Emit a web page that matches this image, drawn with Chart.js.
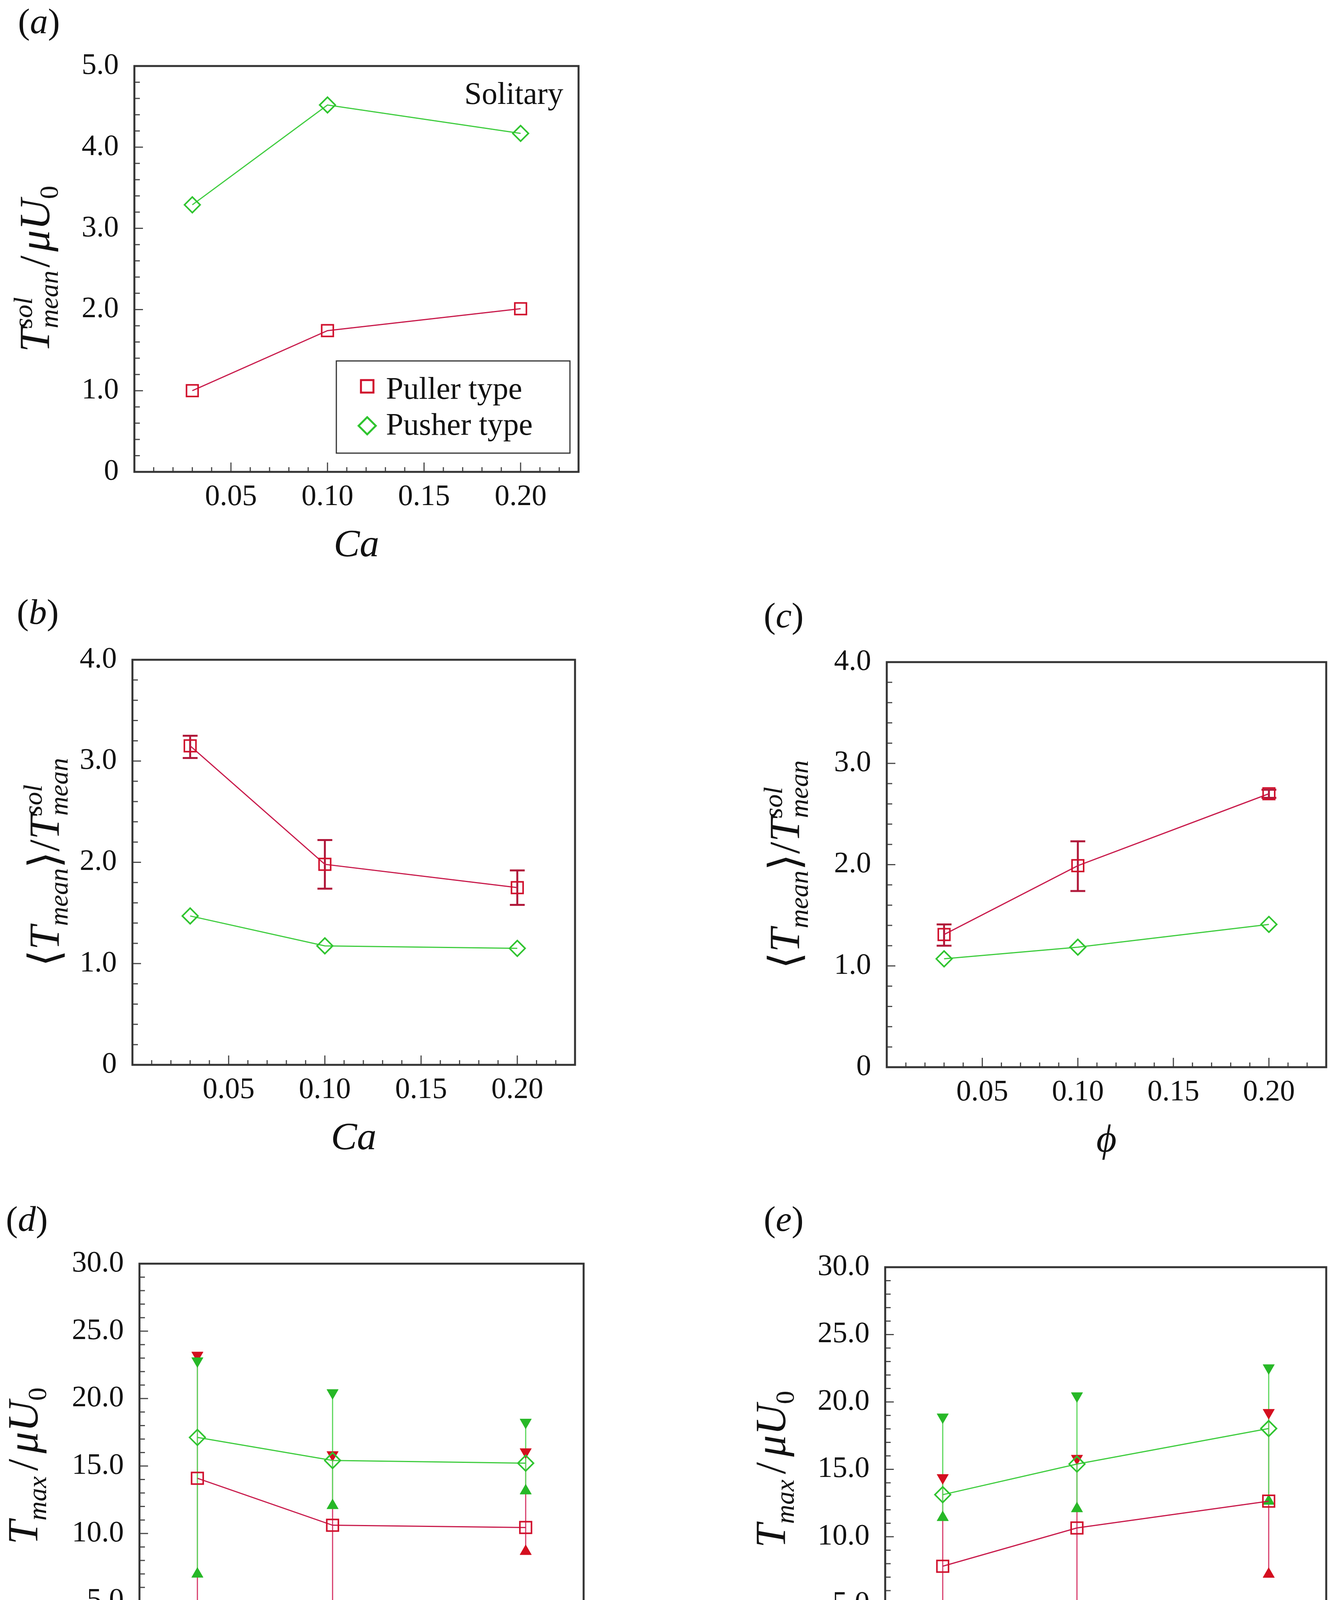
<!DOCTYPE html>
<html>
<head>
<meta charset="utf-8">
<script src="https://cdn.jsdelivr.net/npm/chart.js@4.4.1/dist/chart.umd.min.js"></script>
<style>
html, body { margin: 0; padding: 0; background: #fff; }
body { width: 3420px; height: 4522px; position: relative; overflow: hidden; }
.panel { position: absolute; }
</style>
</head>
<body>
<div class="panel" style="left:0px;top:0px"><canvas id="chartA" width="1600" height="1448"></canvas></div>
<div class="panel" style="left:0px;top:1480px"><canvas id="chartB" width="1600" height="1486"></canvas></div>
<div class="panel" style="left:1900px;top:1480px"><canvas id="chartC" width="1520" height="1492"></canvas></div>
<div class="panel" style="left:0px;top:3000px"><canvas id="chartD" width="1600" height="1511"></canvas></div>
<div class="panel" style="left:1900px;top:3000px"><canvas id="chartE" width="1520" height="1519"></canvas></div>
<script>
// x positions (Ca or phi) shared by all panels
const caValues = [0.03, 0.10, 0.20];
const phiValues = [0.03, 0.10, 0.20];

// tick labels
const xTickLabels = ['0.05', '0.10', '0.15', '0.20'];
const solTickLabels = ['0', '1.0', '2.0', '3.0', '4.0', '5.0'];
const ratioTickLabels = ['0', '1.0', '2.0', '3.0', '4.0'];
const maxTickLabels = ['0', '5.0', '10.0', '15.0', '20.0', '25.0', '30.0'];

// (a) solitary swimmer, T_mean^sol / mu U0
const solPuller = [1.00, 1.74, 2.01];
const solPusher = [3.29, 4.52, 4.17];

// (b) <T_mean>/T_mean^sol vs Ca
const caRatioPuller = [3.15, 1.98, 1.75];
const caRatioPullerLo = [3.03, 1.74, 1.58];
const caRatioPullerHi = [3.25, 2.22, 1.92];
const caRatioPusher = [1.47, 1.175, 1.15];

// (c) <T_mean>/T_mean^sol vs phi
const phiRatioPuller = [1.31, 1.99, 2.70];
const phiRatioPullerLo = [1.20, 1.74, 2.66];
const phiRatioPullerHi = [1.41, 2.23, 2.74];
const phiRatioPusher = [1.07, 1.185, 1.41];

// (d) T_max / mu U0 vs Ca
const caMaxPuller = [14.09, 10.61, 10.44];
const caMaxPullerMin = [3.99, 4.46, 8.67];
const caMaxPullerMax = [23.21, 15.83, 16.05];
const caMaxPusher = [17.12, 15.41, 15.21];
const caMaxPusherMin = [6.99, 12.07, 13.16];
const caMaxPusherMax = [22.79, 20.43, 18.24];

// (e) T_max / mu U0 vs phi
const phiMaxPuller = [7.81, 10.65, 12.64];
const phiMaxPullerMin = [3.09, 4.44, 7.22];
const phiMaxPullerMax = [14.38, 15.81, 19.21];
const phiMaxPusher = [13.12, 15.39, 18.03];
const phiMaxPusherMin = [11.43, 12.08, 12.64];
const phiMaxPusherMax = [18.88, 20.45, 22.53];

const SERIF = '"Liberation Serif", "DejaVu Serif", serif';
const RED_LINE = '#c8194a';
const RED_MARK = '#d0102c';
const ERR_RED = '#b0183a';
const GREEN_LINE = '#3dcc3d';
const GREEN_MARK = '#2fc42f';
const TRI_RED = '#d40f1f';
const TRI_GREEN = '#27b827';
const WHISK_RED = '#d8406e';
const WHISK_GREEN = '#5fd85f';

Chart.defaults.font.family = SERIF;
Chart.defaults.color = '#111';

function points(xs, ys) {
    return xs.map((x, i) => ({ x: x, y: ys[i] }));
}

function stepTicks(max, step) {
    const n = Math.round(max / step);
    const out = [];
    for (let i = 0; i <= n; i++) out.push({ value: +(i * step).toFixed(4) });
    return out;
}

// axis titles with sub/superscripts, drawn as text runs
function drawRich(ctx, runs, x, y, size, align) {
    const small = size * 0.62;
    const parts = runs.map(r => {
        if (r.sup !== undefined) {
            ctx.font = `italic ${small}px ${SERIF}`;
            return { r, w: Math.max(ctx.measureText(r.sup).width, ctx.measureText(r.sub).width) };
        }
        ctx.font = `${r.it ? 'italic ' : ''}${r.sub ? small : size}px ${SERIF}`;
        return { r, w: ctx.measureText(r.t).width + (r.pre || 0) + (r.gap || 0) };
    });
    const total = parts.reduce((s, p) => s + p.w, 0);
    let cx = align === 'center' ? x - total / 2 : x;
    ctx.textBaseline = 'alphabetic';
    ctx.textAlign = 'left';
    parts.forEach(({ r, w }) => {
        if (r.sup !== undefined) {
            ctx.font = `italic ${small}px ${SERIF}`;
            ctx.fillText(r.sup, cx, y - size * 0.40);
            ctx.fillText(r.sub, cx, y + size * 0.20);
        } else {
            ctx.font = `${r.it ? 'italic ' : ''}${r.sub ? small : size}px ${SERIF}`;
            ctx.fillText(r.t, cx + (r.pre || 0), y + (r.sub ? size * 0.20 : 0));
        }
        cx += w;
    });
}

const solTitle = [
    { t: 'T', it: true }, { sup: 'sol', sub: 'mean' },
    { t: '/', pre: 8, gap: 10 }, { t: 'μ', it: true }, { t: 'U', it: true }, { t: '0', sub: true }
];
const ratioTitle = [
    { t: '⟨' }, { t: 'T', it: true }, { t: 'mean', it: true, sub: true }, { t: '⟩' },
    { t: '/' }, { t: 'T', it: true }, { sup: 'sol', sub: 'mean' }
];
const maxTitle = [
    { t: 'T', it: true }, { t: 'max', it: true, sub: true },
    { t: '/', pre: 14, gap: 14 }, { t: 'μ', it: true }, { t: 'U', it: true }, { t: '0', sub: true }
];

const panelDecor = {
    id: 'panelDecor',
    beforeDatasetsDraw(chart) {
        const { ctx, scales: { x, y } } = chart;
        chart.data.datasets.forEach(ds => {
            if (!ds.errLo) return;
            ctx.save();
            ctx.strokeStyle = ds.errColor;
            ctx.lineWidth = ds.errWidth;
            ds.data.forEach((p, i) => {
                const px = x.getPixelForValue(p.x);
                const lo = y.getPixelForValue(ds.errLo[i]);
                const hi = y.getPixelForValue(ds.errHi[i]);
                ctx.beginPath();
                ctx.moveTo(px, lo);
                ctx.lineTo(px, hi);
                if (ds.errCap) {
                    ctx.moveTo(px - ds.errCap, lo);
                    ctx.lineTo(px + ds.errCap, lo);
                    ctx.moveTo(px - ds.errCap, hi);
                    ctx.lineTo(px + ds.errCap, hi);
                }
                ctx.stroke();
            });
            ctx.restore();
        });
    },
    afterDraw(chart, args, opts) {
        const { ctx, chartArea: a, scales: { x, y } } = chart;
        ctx.save();

        // inward tick marks
        ctx.strokeStyle = '#4a4a4a';
        ctx.lineWidth = 3;
        ctx.beginPath();
        x.ticks.forEach(t => {
            const px = x.getPixelForValue(t.value);
            if (px <= a.left + 2 || px >= a.right - 2) return;
            const len = t.label !== '' ? 24 : 12;
            ctx.moveTo(px, a.bottom);
            ctx.lineTo(px, a.bottom - len);
        });
        y.ticks.forEach(t => {
            const py = y.getPixelForValue(t.value);
            if (py >= a.bottom - 2 || py <= a.top + 2) return;
            const len = t.label !== '' ? 22 : 14;
            ctx.moveTo(a.left, py);
            ctx.lineTo(a.left + len, py);
        });
        ctx.stroke();

        // frame
        ctx.strokeStyle = '#333';
        ctx.lineWidth = 5;
        ctx.strokeRect(a.left, a.top, a.right - a.left, a.bottom - a.top);

        ctx.fillStyle = '#111';
        // rotated y title
        ctx.save();
        ctx.translate(a.left - opts.yTitleOffset, (a.top + a.bottom) / 2);
        ctx.rotate(-Math.PI / 2);
        drawRich(ctx, opts.yTitle, 0, 0, 110, 'center');
        ctx.restore();

        // panel letter
        drawRich(ctx, [{ t: '(' }, { t: opts.letter, it: true }, { t: ')' }],
            opts.letterPos[0], opts.letterPos[1] + 23, 92, 'left');

        if (opts.solitary) {
            ctx.font = `80px ${SERIF}`;
            ctx.textAlign = 'right';
            ctx.fillText('Solitary', a.right - 39, a.top + 97);

            const lx = a.left + 517, ly = a.top + 755;
            const lw = a.right - 22 - lx, lh = a.bottom - 48 - ly;
            ctx.strokeStyle = '#333';
            ctx.lineWidth = 3;
            ctx.strokeRect(lx, ly, lw, lh);

            ctx.lineWidth = 5;
            ctx.strokeStyle = RED_MARK;
            ctx.strokeRect(lx + 79 - 16, ly + 65 - 16, 32, 32);
            ctx.strokeStyle = GREEN_MARK;
            ctx.beginPath();
            ctx.moveTo(lx + 79, ly + 166 - 22);
            ctx.lineTo(lx + 79 + 22, ly + 166);
            ctx.lineTo(lx + 79, ly + 166 + 22);
            ctx.lineTo(lx + 79 - 22, ly + 166);
            ctx.closePath();
            ctx.stroke();

            ctx.fillStyle = '#111';
            ctx.textAlign = 'left';
            ctx.font = `80px ${SERIF}`;
            chart.data.datasets.slice(0, 2).forEach((ds, i) => {
                ctx.fillText(ds.label, lx + 127, ly + (i === 0 ? 97 : 189));
            });
        }
        ctx.restore();
    }
};

function meanSet(label, xs, ys, puller, extra) {
    return Object.assign({
        label: label,
        data: points(xs, ys),
        showLine: true,
        borderColor: puller ? RED_LINE : GREEN_LINE,
        borderWidth: 3,
        pointStyle: puller ? 'rect' : 'rectRot',
        pointRadius: puller ? 21 : 20,
        pointBorderWidth: 4,
        pointBorderColor: puller ? RED_MARK : GREEN_MARK,
        pointBackgroundColor: 'rgba(0,0,0,0)',
        order: 0
    }, extra || {});
}

function triSet(label, xs, ys, color, down, order) {
    return {
        label: label,
        data: points(xs, ys),
        showLine: false,
        pointStyle: 'triangle',
        pointRotation: down ? 180 : 0,
        pointRadius: 17,
        pointBorderWidth: 1,
        pointBorderColor: color,
        pointBackgroundColor: color,
        order: order
    };
}

function makePanel(id, cfg) {
    const canvas = document.getElementById(id);
    new Chart(canvas, {
        type: 'scatter',
        data: { datasets: cfg.datasets },
        options: {
            responsive: false,
            animation: false,
            devicePixelRatio: 1,
            layout: { padding: { left: 0, top: cfg.T - cfg.y0, right: cfg.x0 + cfg.w - cfg.R, bottom: 0 } },
            plugins: {
                legend: { display: false },
                tooltip: { enabled: false },
                panelDecor: {
                    yTitle: cfg.yTitle,
                    yTitleOffset: cfg.yTitleOffset,
                    letter: cfg.letter,
                    letterPos: cfg.letterPos,
                    solitary: !!cfg.solitary
                }
            },
            scales: {
                x: {
                    type: 'linear',
                    position: 'bottom',
                    min: 0,
                    max: 0.23,
                    afterBuildTicks: s => { s.ticks = stepTicks(0.23, 0.01); },
                    afterFit: s => { s.height = 240; },
                    grid: { display: false, drawTicks: false },
                    border: { display: false },
                    ticks: {
                        autoSkip: false,
                        maxRotation: 0,
                        padding: 19,
                        font: { size: 76 },
                        color: '#111',
                        callback: v => {
                            const s = Number(v).toFixed(2);
                            return xTickLabels.includes(s) ? s : '';
                        }
                    },
                    title: {
                        display: true,
                        text: cfg.xTitle,
                        color: '#111',
                        font: { size: 100, style: 'italic', lineHeight: 1 },
                        padding: { top: 0, bottom: 0 }
                    }
                },
                y: {
                    type: 'linear',
                    min: 0,
                    max: cfg.yMax,
                    afterBuildTicks: s => { s.ticks = stepTicks(cfg.yMax, cfg.yStep); },
                    afterFit: s => { s.width = cfg.L - cfg.x0; },
                    grid: { display: false, drawTicks: false },
                    border: { display: false },
                    ticks: {
                        autoSkip: false,
                        padding: 40,
                        font: { size: 76 },
                        color: '#111',
                        callback: v => {
                            const s = v === 0 ? '0' : Number(v).toFixed(1);
                            return cfg.yLabels.includes(s) ? s : '';
                        }
                    }
                }
            }
        },
        plugins: [panelDecor]
    });
}

document.addEventListener('DOMContentLoaded', function() {
    // (a)
    makePanel('chartA', {
        x0: 0, y0: 0, w: 1600, L: 344, T: 169, R: 1481,
        yMax: 5, yStep: 0.2, yLabels: solTickLabels,
        xTitle: 'Ca', yTitle: solTitle, yTitleOffset: 218,
        letter: 'a', letterPos: [46, 62], solitary: true,
        datasets: [
            meanSet('Puller type', caValues, solPuller, true),
            meanSet('Pusher type', caValues, solPusher, false)
        ]
    });

    // (b)
    makePanel('chartB', {
        x0: 0, y0: 1480, w: 1600, L: 339, T: 1689, R: 1472,
        yMax: 4, yStep: 0.2, yLabels: ratioTickLabels,
        xTitle: 'Ca', yTitle: ratioTitle, yTitleOffset: 188,
        letter: 'b', letterPos: [43, 94],
        datasets: [
            meanSet('Puller type', caValues, caRatioPuller, true, {
                errLo: caRatioPullerLo, errHi: caRatioPullerHi, errColor: ERR_RED, errWidth: 5, errCap: 19
            }),
            meanSet('Pusher type', caValues, caRatioPusher, false)
        ]
    });

    // (c)
    makePanel('chartC', {
        x0: 1900, y0: 1480, w: 1520, L: 2270, T: 1695, R: 3407,
        yMax: 4, yStep: 0.2, yLabels: ratioTickLabels,
        xTitle: 'ϕ', yTitle: ratioTitle, yTitleOffset: 224,
        letter: 'c', letterPos: [55, 103],
        datasets: [
            meanSet('Puller type', phiValues, phiRatioPuller, true, {
                errLo: phiRatioPullerLo, errHi: phiRatioPullerHi, errColor: ERR_RED, errWidth: 5, errCap: 19
            }),
            meanSet('Pusher type', phiValues, phiRatioPusher, false)
        ]
    });

    // (d)
    makePanel('chartD', {
        x0: 0, y0: 3000, w: 1600, L: 357, T: 3235, R: 1494,
        yMax: 30, yStep: 1, yLabels: maxTickLabels,
        xTitle: 'Ca', yTitle: maxTitle, yTitleOffset: 261,
        letter: 'd', letterPos: [15, 128],
        datasets: [
            meanSet('Puller type', caValues, caMaxPuller, true, {
                errLo: caMaxPullerMin, errHi: caMaxPullerMax, errColor: WHISK_RED, errWidth: 3, errCap: 0
            }),
            meanSet('Pusher type', caValues, caMaxPusher, false, {
                errLo: caMaxPusherMin, errHi: caMaxPusherMax, errColor: WHISK_GREEN, errWidth: 3, errCap: 0
            }),
            triSet('Puller max', caValues, caMaxPullerMax, TRI_RED, true, 2),
            triSet('Puller min', caValues, caMaxPullerMin, TRI_RED, false, 2),
            triSet('Pusher max', caValues, caMaxPusherMax, TRI_GREEN, true, 1),
            triSet('Pusher min', caValues, caMaxPusherMin, TRI_GREEN, false, 1)
        ]
    });

    // (e)
    makePanel('chartE', {
        x0: 1900, y0: 3000, w: 1520, L: 2266, T: 3244, R: 3403,
        yMax: 30, yStep: 1, yLabels: maxTickLabels,
        xTitle: 'ϕ', yTitle: maxTitle, yTitleOffset: 256,
        letter: 'e', letterPos: [55, 128],
        datasets: [
            meanSet('Puller type', phiValues, phiMaxPuller, true, {
                errLo: phiMaxPullerMin, errHi: phiMaxPullerMax, errColor: WHISK_RED, errWidth: 3, errCap: 0
            }),
            meanSet('Pusher type', phiValues, phiMaxPusher, false, {
                errLo: phiMaxPusherMin, errHi: phiMaxPusherMax, errColor: WHISK_GREEN, errWidth: 3, errCap: 0
            }),
            triSet('Puller max', phiValues, phiMaxPullerMax, TRI_RED, true, 2),
            triSet('Puller min', phiValues, phiMaxPullerMin, TRI_RED, false, 2),
            triSet('Pusher max', phiValues, phiMaxPusherMax, TRI_GREEN, true, 1),
            triSet('Pusher min', phiValues, phiMaxPusherMin, TRI_GREEN, false, 1)
        ]
    });
});
</script>
</body>
</html>
